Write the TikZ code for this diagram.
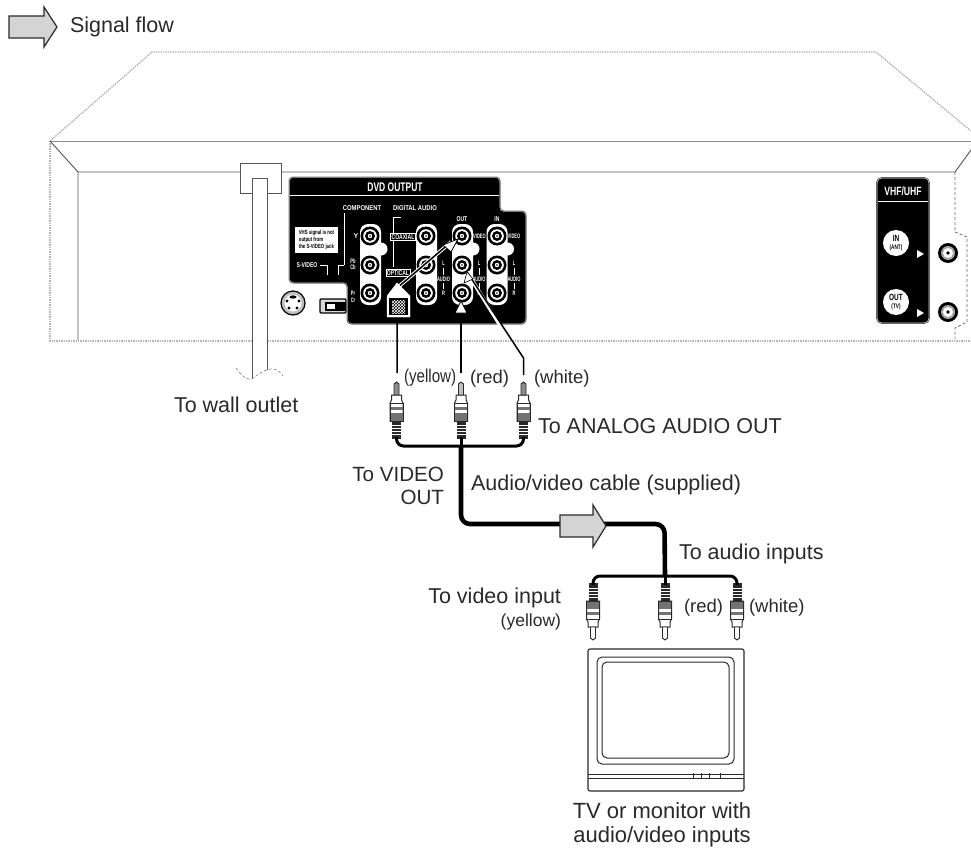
\documentclass[tikz,border=0pt]{standalone}
\usepackage{fontspec}
\setmainfont{Liberation Sans}
\usetikzlibrary{arrows.meta,calc,patterns}
\definecolor{ink}{HTML}{2A2A2A}
\definecolor{dotg}{HTML}{B4B4B4}
\definecolor{solg}{HTML}{8C8C8C}
\definecolor{arrg}{HTML}{D4D4D4}
\tikzset{
  lbl/.style={inner sep=0pt,outer sep=0pt,text=ink,font=\fontsize{21.5}{23}\selectfont},
  lblsm/.style={inner sep=0pt,outer sep=0pt,text=ink,font=\fontsize{18.5}{21}\selectfont},
  tinyw/.style={inner sep=0pt,outer sep=0pt,text=white,font=\fontsize{7}{7.6}\selectfont\bfseries},
  tinyb/.style={inner sep=0pt,outer sep=0pt,text=black,font=\fontsize{7}{7.6}\selectfont\bfseries},
  dotline/.style={draw=dotg,line width=1.4pt,densely dotted},
  thin line/.style={draw=ink!80,line width=.9pt},
  heavy/.style={draw=black,line width=4.6pt,rounded corners=9pt},
  medium/.style={draw=black,line width=3pt,rounded corners=7pt},
  flow/.style={draw=ink,line width=1.2pt,fill=arrg,line join=miter},
  halo/.style={draw=white,line width=3.6pt},
  core/.style={draw=black,line width=1.5pt},
}
\newcommand{\nar}[1]{\scalebox{.72}[1]{#1}}
\newcommand{\narw}[1]{\scalebox{.84}[1]{#1}}
\newcommand{\narn}[1]{\scalebox{.62}[1]{\fontsize{6.5}{7}\selectfont #1}}
% RCA plug: #1 name, #2 x, #3 y of cable end, #4 direction (1 = tip up, -1 = tip down), #5 tip fill
\newcommand{\rcaplug}[5]{%
  \coordinate (#1) at (#2,#3);
  \begin{scope}[shift={(#2,#3)},yscale=#4]
    \fill[ink] (-4.5,2) rectangle (4.5,-16);
    \foreach \q in {-3,-6,-9,-12}{\draw[white,line width=.7pt] (-4.5,\q) -- (4.5,\q);}
    \draw[ink,fill=white,line width=1pt] (-6.5,-16) -- (-6.5,-34) -- (-5,-37) -- (-5,-42) -- (5,-42) -- (5,-37) -- (6.5,-34) -- (6.5,-16) -- cycle;
    \fill[black!55] (-6.5,-16) rectangle (6.5,-24);
    \fill[black!55] (-6.5,-27) rectangle (6.5,-30);
    \draw[ink,line width=1pt] (-6.5,-16) rectangle (6.5,-34);
    \draw[ink,fill=#5,line width=.9pt] (-2.5,-42) -- (-2.5,-53) -- (0,-55) -- (2.5,-53) -- (2.5,-42) -- cycle;
  \end{scope}}
% jack: #1 name, #2 x, #3 y
\newcommand{\jack}[3]{%
  \coordinate (#1) at (#2,#3);
  \fill[black] (#2,#3) circle (9.5);
  \fill[white] (#2,#3) circle (6.8);
  \fill[black] (#2,#3) circle (5);
  \fill[white] (#2,#3) circle (2.2);
  \fill[black] (#2,#3) circle (.9);}
\newcommand{\band}[2]{%
  \fill[white,rounded corners=8pt] (#1-10.5,224) rectangle (#1+10.5,305);
  \ifnum#2=1 \fill[white] (#1+10.5,249) circle (6.5);\fi}
\newcommand{\audiolabel}[2]{%
  \node[tinyw] (#2l) at (#1,263) {\narn{L}};
  \node[tinyw] (#2a) at (#1,279) {\narn{AUDIO}};
  \node[tinyw] (#2r) at (#1,293) {\narn{R}};
  \draw[white,line width=.5pt] (#1,268) -- (#1,275) (#1,283) -- (#1,289);}
\begin{document}
\begin{tikzpicture}[x=1pt,y=-1pt]
\useasboundingbox (0,0) rectangle (971,851);
\fill[white] (0,0) rectangle (971,851);

% legend
\draw[flow] (9,16) -- (44,16) -- (44,7) -- (57,27) -- (44,47) -- (44,38) -- (9,38) -- cycle;
\node[lbl,anchor=west] (legend) at (70,27) {Signal flow};

% recorder body
\draw[dotline] (50,141) -- (152,52) -- (876,52) -- (971,131);
\draw[dotline] (50,141) -- (50,341) -- (971,341);
\draw[draw=solg,line width=1.3pt] (50,141.5) -- (971,141.5);
\draw[thin line] (50,141) -- (78,172) -- (78,340);
\draw[thin line] (78,172) -- (955,172) -- (971,150);
\draw[draw=ink!70,line width=.8pt,densely dashed] (955,172) -- (955,232) -- (967,237) -- (967,322) -- (955,328) -- (955,339);

% power cord and outlet
\draw[thin line,fill=white] (240,163) rectangle (281,193);
\fill[white] (252,178) rectangle (267,342);
\draw[thin line] (252,378) -- (252,178) -- (267,178) -- (267,370);
\draw[draw=ink!60,line width=.6pt,densely dashed] (236,368) .. controls (243,378) and (248,380) .. (252,379) .. controls (258,374) and (263,371) .. (267,370) .. controls (273,367) and (279,370) .. (283,376);
\node[lbl,anchor=west] (wall) at (174,405) {To wall outlet};

% S-video socket and switch
\draw[black,line width=1.2pt,fill=black!25] (293,303) circle (12);
\fill[white] (293,303) circle (8.5);
\fill[black] (293,297) ellipse (3.5 and 1.6);
\foreach \p in {(287,301),(299,301),(289,308),(297,308)}{\fill[black] \p circle (1.6);}
\draw[black,line width=1.2pt,fill=black!15,rounded corners=1pt] (320,299) rectangle (346,313);
\fill[black] (325,302) rectangle (346,311);
\fill[white] (327,304) rectangle (335,309);

% DVD output panel
\draw[black,fill=black,line width=1pt,rounded corners=4pt] (290,178) -- (499,178) -- (499,212) -- (525,212) -- (525,323) -- (348,323) -- (348,282) -- (290,282) -- cycle;
\draw[black!60,line width=1pt,rounded corners=4pt] (289,177) -- (500,177) -- (500,211) -- (526,211) -- (526,324) -- (347,324) -- (347,283) -- (289,283) -- cycle;
\draw[white,line width=1pt] (290,195.5) -- (499,195.5);
\node[inner sep=0pt,text=white,font=\fontsize{12.5}{13}\selectfont\bfseries] (dvdtitle) at (395,187) {\scalebox{.68}[1]{DVD OUTPUT}};

\band{370.5}{1}\band{426.5}{0}\band{462.5}{1}\band{497}{1}
\jack{j11}{370}{236}\jack{j12}{370}{265}\jack{j13}{370}{293}
\jack{j21}{426}{236}\jack{j22}{426}{265}\jack{j23}{426}{293}
\jack{j31}{462}{236}\jack{j32}{462}{265}\jack{j33}{462}{293}
\jack{j41}{497}{236}\jack{j42}{497}{265}\jack{j43}{497}{293}

\node[tinyw] (comp) at (362,208) {\narw{COMPONENT}};
\node[tinyw] (digi) at (415,208) {\narw{DIGITAL AUDIO}};
\node[tinyw] (outl) at (462,219) {\nar{OUT}};
\node[tinyw] (inl) at (497,219) {\nar{IN}};
\node[tinyw] (yl) at (356,236) {Y};
\node[tinyw,align=center] (pb) at (353,264) {\narn{Pb}\\[-1pt]\narn{Cb}};
\node[tinyw,align=center] (pr) at (353,297) {\narn{Pr}\\[-1pt]\narn{Cr}};
\node[tinyw] (v1) at (479.5,236) {\narn{VIDEO}};
\node[tinyw] (v2) at (514,236) {\narn{VIDEO}};
\audiolabel{443.5}{a}\audiolabel{479}{b}\audiolabel{514}{c}
\draw[white,line width=.7pt] (344,213) -- (344,265);
\draw[white,line width=.7pt] (393,217) -- (401,217) (393,217) -- (393,267);
\node[draw=white,fill=black,tinyw,inner sep=1pt,line width=.6pt] (coax) at (403,237) {\nar{COAXIAL}};
\node[draw=white,fill=black,tinyw,inner sep=1pt,line width=.6pt] (opt) at (398,273) {\nar{OPTICAL}};
\node[fill=white,tinyb,inner sep=0pt,minimum width=43,minimum height=26,align=left,font=\fontsize{6}{7.4}\selectfont\bfseries] (note) at (316.5,240) {\nar{VHS signal is not}\\\nar{output from}\\\nar{the S-VIDEO jack}};
\node[tinyw] (svid) at (307,265) {\nar{S-VIDEO}};
\draw[white,line width=.6pt] (320,265) -- (327,265) -- (327,275);
\draw[white,line width=.6pt] (338,275) -- (338,265) -- (344,265);

% VHF/UHF panel
\draw[black,fill=black,line width=1.2pt,rounded corners=4pt] (878,179) rectangle (928,322);
\draw[black!60,line width=.8pt,rounded corners=5pt] (876.5,177.5) rectangle (929.5,323.5);
\draw[white,line width=1pt] (878,201.5) -- (928,201.5);
\node[tinyw,font=\fontsize{12}{12}\selectfont\bfseries] (vhf) at (903,191.5) {\nar{VHF/UHF}};
\node[circle,fill=white,text=black,inner sep=0pt,minimum size=26,align=center,font=\fontsize{9}{9}\selectfont\bfseries] (vin) at (896,243) {\nar{IN}\\[-1pt]{\fontsize{6.5}{7}\selectfont\nar{(ANT)}}};
\node[circle,fill=white,text=black,inner sep=0pt,minimum size=26,align=center,font=\fontsize{9}{9}\selectfont\bfseries] (vout) at (896,302) {\nar{OUT}\\[-1pt]{\fontsize{6.5}{7}\selectfont\nar{(TV)}}};
\fill[white] (917,250) -- (924,254) -- (917,258) -- cycle;
\fill[white] (917,309) -- (924,313) -- (917,317) -- cycle;
\foreach \n/\yy in {ca/253,cb/312}{
  \coordinate (\n) at (948,\yy);
  \fill[black] (\n) circle (10);
  \fill[black!35] (\n) circle (7);
  \fill[white] (\n) circle (5);
  \fill[black] (\n) circle (1.8);}

% plugs on the recorder side
\coordinate (junctop) at (461,446);
\rcaplug{py}{396.5}{437}{1}{black!45}
\rcaplug{pr}{461}{437}{1}{black!25}
\rcaplug{pw}{523.5}{437}{1}{black!45}
\draw[medium] (py) -- (396.5,446) -- (junctop);
\draw[medium] (pw) -- (523.5,446) -- (junctop);
\draw[medium,rounded corners=0pt] (pr) -- (junctop);

% plug-to-socket leaders
\coordinate (ly) at (397,373);
\coordinate (lr) at (461,373);
\coordinate (lw) at (523.5,375);
\coordinate (ty) at (451,242);
\coordinate (tr) at (461,313);
\coordinate (tw) at (467,272);
\draw[halo] (397,288) -- (ty);
\draw[halo] (506,335) -- (tw);
\draw[core] (ly) -- (397,288) -- (ty);
\draw[core] (lr) -- (tr);
\draw[core] (lw) -- (523.5,358) -- (tw);
\fill[white,draw=black,line width=.8pt] (458,239) -- (443,245) -- (451,252) -- cycle;
\fill[white,draw=black,line width=.8pt] (461,301) -- (455,313) -- (467,313) -- cycle;
\fill[white,draw=black,line width=.6pt] (467,272) -- (473,279) -- (464,283) -- cycle;

% optical connector, over the leader
\draw[white,fill=white] (387,317) -- (387,296) -- (397,283) -- (410,296) -- (410,317) -- cycle;
\fill[black] (389,298) rectangle (408,315);
\fill[pattern=crosshatch,pattern color=white] (392,300) rectangle (405,313);

% main cable
\coordinate (cblbend) at (664.5,524);
\coordinate (junctbot) at (665,576);
\draw[heavy] (junctop) -- (461,524) -- (cblbend) -- (junctbot);

% cable arrow
\draw[flow] (560,515) -- (593,515) -- (593,505) -- (606,526) -- (593,547) -- (593,537) -- (560,537) -- cycle;

% plugs on the TV side
\rcaplug{qy}{593}{585}{-1}{white}
\rcaplug{qr}{665}{585}{-1}{white}
\rcaplug{qw}{737}{585}{-1}{white}
\draw[medium] (qy) -- (593,576) -- (junctbot);
\draw[medium] (qw) -- (737,576) -- (junctbot);
\draw[medium,rounded corners=0pt] (qr) -- (junctbot);

% TV
\draw[ink,line width=1.1pt,rounded corners=2pt] (588,649) -- (744,649) -- (744,791) -- (588,791) -- cycle;
\draw[ink,line width=1pt,rounded corners=5pt] (597,657) rectangle (734,764);
\draw[ink,line width=1pt,rounded corners=5pt] (602,662) rectangle (729,758);
\draw[ink,line width=1pt] (588,774) -- (744,774);
\draw[ink,line width=1pt] (588,778) -- (744,778);
\foreach \q in {693,701,709,720}{\draw[ink,line width=.9pt] (\q,773) -- (\q,779);}

% labels
\node[lblsm,anchor=west] (ylw) at (404,378) {\scalebox{.82}[1]{(yellow)}};
\node[lblsm,anchor=west] (red) at (470,379) {(red)};
\node[lblsm,anchor=west] (wht) at (534,379) {(white)};
\node[lbl,anchor=west] (anaout) at (538,426) {To ANALOG AUDIO OUT};
\node[lbl,anchor=east,align=right,font=\fontsize{20.6}{23}\selectfont] (tovid) at (444,486) {To VIDEO\\OUT};
\node[lbl,anchor=west] (avc) at (471,485) {Audio/video cable (supplied)};
\node[lbl,anchor=west] (toaud) at (679,554) {To audio inputs};
\node[lbl,anchor=east] (tovin) at (561,598) {To video input};
\node[lblsm,anchor=east,font=\fontsize{17.5}{20}\selectfont] (ylw2) at (561,622) {(yellow)};
\node[lblsm,anchor=west] (red2) at (684,608) {(red)};
\node[lblsm,anchor=west] (wht2) at (749,608) {(white)};
\node[lbl,align=center,font=\fontsize{22}{24}\selectfont] (tvlab) at (662,825) {TV or monitor with\\audio/video inputs};
\end{tikzpicture}
\end{document}
